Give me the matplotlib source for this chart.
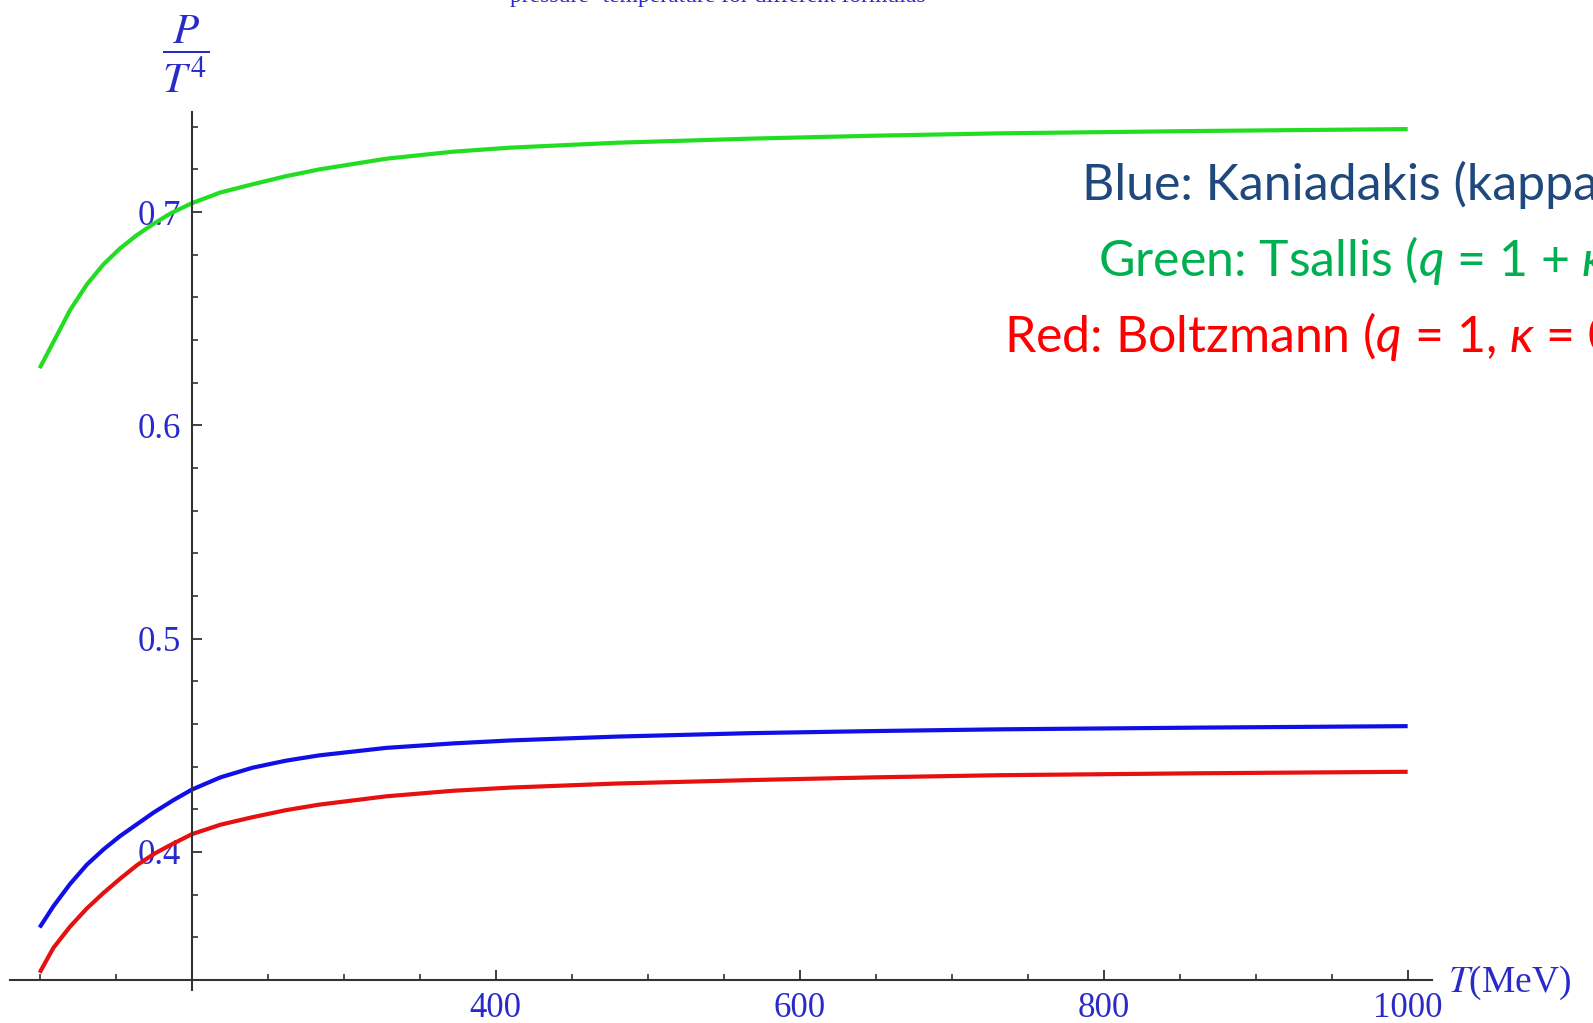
import matplotlib
matplotlib.use('Agg')
import matplotlib.pyplot as plt
from matplotlib.ticker import FixedLocator, FixedFormatter, NullFormatter

# ---- data ----
T_green = [100, 109, 120, 131, 142, 153, 164, 175, 186, 200, 219, 240, 262, 284, 328, 372,
           410, 480, 567, 650, 732, 863, 1000]
tsallis = [0.6268, 0.6390, 0.6540, 0.6660, 0.6755, 0.6830, 0.6892, 0.6945, 0.6993, 0.7041,
           0.7092, 0.7130, 0.7168, 0.7200, 0.7250, 0.7283, 0.7302, 0.7325, 0.7344, 0.7358,
           0.7369, 0.7380, 0.7389]

T_blue = [100, 109, 120, 131, 142, 153, 164, 175, 188, 200, 219, 240, 262, 284, 328, 372,
          410, 480, 567, 650, 732, 863, 1000]
kaniadakis = [0.3646, 0.3745, 0.3850, 0.3940, 0.4012, 0.4075, 0.4130, 0.4185, 0.4243, 0.4292,
              0.4350, 0.4395, 0.4428, 0.4453, 0.4488, 0.4509, 0.4523, 0.4541, 0.4557, 0.4567,
              0.4575, 0.4583, 0.4590]

T_red = [100, 109, 120, 131, 142, 153, 164, 175, 184, 200, 219, 240, 262, 284, 328, 372,
         410, 480, 567, 650, 732, 863, 1000]
boltzmann = [0.3434, 0.3550, 0.3650, 0.3735, 0.3808, 0.3875, 0.3938, 0.3990, 0.4025, 0.4083,
             0.4128, 0.4163, 0.4196, 0.4222, 0.4261, 0.4287, 0.4302, 0.4321, 0.4337, 0.4350,
             0.4360, 0.4369, 0.4376]

x_major = [200, 400, 600, 800, 1000]
x_major_labels = ['', '400', '600', '800', '1000']
x_minor = [100, 150, 250, 300, 350, 450, 500, 550, 650, 700, 750, 850, 900, 950]
y_major = [0.4, 0.5, 0.6, 0.7]
y_major_labels = ['0.4', '0.5', '0.6', '0.7']
y_minor = [0.36, 0.38, 0.42, 0.44, 0.46, 0.48, 0.52, 0.54, 0.56, 0.58,
           0.62, 0.64, 0.66, 0.68, 0.72, 0.74]

legend_lines = [
    ("Blue: Kaniadakis (kappa", '#1F497D'),
    ("Green: Tsallis ($q$ = 1 + $\\kappa$", '#00B050'),
    ("Red: Boltzmann ($q$ = 1, $\\kappa$ = 0", '#FF0000'),
]
title_text = "pressure- temperature for different formulas"

# ---- style ----
plt.rcParams['mathtext.fontset'] = 'custom'
plt.rcParams['mathtext.rm'] = 'Lato'
plt.rcParams['mathtext.it'] = 'Lato:italic'
plt.rcParams['mathtext.fallback'] = 'stixsans'

W, H = 1593, 1023
fig = plt.figure(figsize=(W / 100, H / 100), dpi=100)
fig.patch.set_facecolor('white')
ax = fig.add_axes([10 / W, 1 - 990 / H, 1422 / W, 878 / H])
ax.patch.set_visible(False)
ax.set_xlim(80.5, 1016)
ax.set_ylim(0.3353, 0.7469)

ax.plot(T_green, tsallis, color='#22dd22', lw=3.0, solid_capstyle='butt', solid_joinstyle='round')
ax.plot(T_blue, kaniadakis, color='#1010e6', lw=3.0, solid_capstyle='butt', solid_joinstyle='round')
ax.plot(T_red, boltzmann, color='#e61010', lw=3.0, solid_capstyle='butt', solid_joinstyle='round')

for s in ['top', 'right']:
    ax.spines[s].set_visible(False)
ax.spines['left'].set_position(('data', 200))
ax.spines['bottom'].set_position(('data', 0.34))
for s in ['left', 'bottom']:
    ax.spines[s].set_color('#333333')
    ax.spines[s].set_linewidth(1.5)

tick_color = '#2a2ac8'
ax.xaxis.set_major_locator(FixedLocator(x_major))
ax.xaxis.set_major_formatter(FixedFormatter(x_major_labels))
ax.xaxis.set_minor_locator(FixedLocator(x_minor))
ax.xaxis.set_minor_formatter(NullFormatter())
ax.yaxis.set_major_locator(FixedLocator(y_major))
ax.yaxis.set_major_formatter(FixedFormatter(y_major_labels))
ax.yaxis.set_minor_locator(FixedLocator(y_minor))
ax.yaxis.set_minor_formatter(NullFormatter())

ax.tick_params(which='major', direction='in', length=7, width=1.3, color='#333333',
               labelsize=25, labelcolor=tick_color)
ax.tick_params(which='minor', direction='in', length=4, width=1.2, color='#333333')
ax.tick_params(axis='x', which='major', pad=9)
ax.tick_params(axis='y', which='major', pad=8)
for lab in ax.get_xticklabels() + ax.get_yticklabels():
    lab.set_family('Liberation Serif')

# axis labels
fig.text(186 / W, 1 - 54 / H, r'$\dfrac{P}{T^4}$', math_fontfamily='stix',
         fontsize=31, color=tick_color, ha='center', va='center')
fig.text(1448 / W, 1 - 983 / H, r'$T$(MeV)', math_fontfamily='stix',
         family='Liberation Serif', fontsize=27, color=tick_color,
         ha='left', va='center')

# cropped title at the very top
fig.text(718 / W, 1 - 2 / H, title_text, family='Liberation Serif', fontsize=17,
         color=tick_color, ha='center', va='baseline')

# legend-like annotations on the right (cropped by the figure edge)
lx = [1082, 1098, 1004]
ly = [200, 276, 352]
for (txt, col), x, y in zip(legend_lines, lx, ly):
    fig.text(x / W, 1 - y / H, txt, family=['Lato', 'DejaVu Sans'], fontsize=36,
             color=col, ha='left', va='baseline', math_fontfamily='custom')

fig.savefig('out.png', dpi=100, facecolor='white')
